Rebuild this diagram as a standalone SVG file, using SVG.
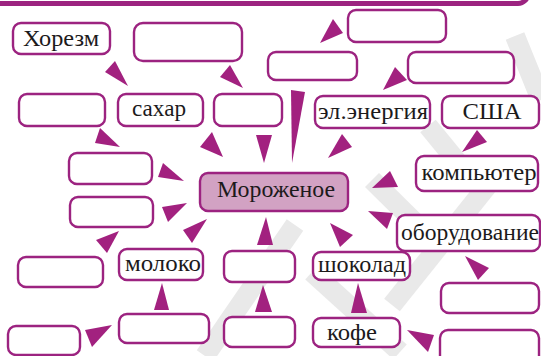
<svg xmlns="http://www.w3.org/2000/svg" width="541" height="356" viewBox="0 0 541 356">
<style>
.box{fill:#fff;stroke:#9c2380;stroke-width:2.4}
.main{fill:#d2a2c3;stroke:#9c2380;stroke-width:2.4}
.arr{fill:#a2217f;stroke:none}
.t{font-family:'Liberation Serif','Times New Roman',serif;font-size:24px;fill:#1c1a1b;text-anchor:middle}
.wm{fill:none;stroke:#e9e9e9;stroke-width:20;stroke-linecap:butt}
</style>
<rect width="541" height="356" fill="#fff"/>
<g id="watermark">
<path class="wm" d="M515,36 L541,100"/>
<path class="wm" d="M428,126 L482,192"/>
<path class="wm" d="M372,180 L445,252"/>
<path class="wm" d="M500,170 L392,305"/>
<path class="wm" d="M295,225 L205,356"/>
<path class="wm" d="M312,272 L400,352"/>
</g>
<rect x="-20" y="-40" width="548" height="43.5" rx="10" fill="none" stroke="#9c2380" stroke-width="5"/>
<g id="connectors">
<polygon class="arr" points="105,72 115,61 128,86"/>
<polygon class="arr" points="220,77 230,65 243,88"/>
<polygon class="arr" points="200,147 212,132 223,157"/>
<polygon class="arr" points="256,135 272,135 264,163"/>
<polygon class="arr" points="95,143 100,128 120,147"/>
<polygon class="arr" points="163,163 158,177 184,181"/>
<polygon class="arr" points="320,43 333,19 343,33"/>
<polygon class="arr" points="291,90 305,92 292,163"/>
<polygon class="arr" points="383,90 395,67 407,80"/>
<polygon class="arr" points="328,158 342,134 352,147"/>
<polygon class="arr" points="462,152 477,130 487,142"/>
<polygon class="arr" points="372,188 390,171 398,187"/>
<polygon class="arr" points="368,211 393,213 387,229"/>
<polygon class="arr" points="330,223 353,235 340,247"/>
<polygon class="arr" points="465,256 489,268 478,280"/>
<polygon class="arr" points="358,283 351,313 367,313"/>
<polygon class="arr" points="407,330 434,335 428,352"/>
<polygon class="arr" points="263,285 255,312 272,312"/>
<polygon class="arr" points="266,217 257,245 273,245"/>
<polygon class="arr" points="162,207 187,203 168,222"/>
<polygon class="arr" points="96,240 119,231 107,253"/>
<polygon class="arr" points="183,230 207,219 192,243"/>
<polygon class="arr" points="162,283 154,310 169,310"/>
<polygon class="arr" points="112,325 85,330 92,347"/>
</g>
<g id="n-khorezm"><rect class="box" x="13" y="23" width="97" height="31" rx="8"/><text class="t" x="61" y="46" textLength="76" lengthAdjust="spacingAndGlyphs">Хорезм</text></g>
<g id="n-top1"><rect class="box" x="134" y="23" width="108" height="38" rx="9"/></g>
<g id="n-top2"><rect class="box" x="268" y="52" width="89" height="28" rx="8"/></g>
<g id="n-top3"><rect class="box" x="348" y="10" width="98" height="32" rx="8"/></g>
<g id="n-top4"><rect class="box" x="408" y="52" width="106" height="31" rx="8"/></g>
<g id="n-left1"><rect class="box" x="19" y="94" width="86" height="32" rx="8"/></g>
<g id="n-sakhar"><rect class="box" x="118" y="94" width="85" height="32" rx="8"/><text class="t" x="159" y="116" textLength="54" lengthAdjust="spacingAndGlyphs">сахар</text></g>
<g id="n-r1"><rect class="box" x="214" y="94" width="68" height="32" rx="8"/></g>
<g id="n-energy"><rect class="box" x="315" y="96" width="115" height="32" rx="8"/><text class="t" x="373" y="118.5" textLength="110" lengthAdjust="spacingAndGlyphs">эл.энергия</text></g>
<g id="n-usa"><rect class="box" x="442" y="96" width="97" height="32" rx="8"/><text class="t" x="492" y="119" textLength="59" lengthAdjust="spacingAndGlyphs">США</text></g>
<g id="n-computer"><rect class="box" x="416" y="156" width="122" height="35" rx="8"/><text class="t" x="479" y="180" textLength="115" lengthAdjust="spacingAndGlyphs">компьютер</text></g>
<g id="n-main"><rect class="main" x="200" y="173" width="148" height="38" rx="8"/><text class="t" x="276" y="197" textLength="118" lengthAdjust="spacingAndGlyphs">Мороженое</text></g>
<g id="n-L1"><rect class="box" x="69" y="153" width="83" height="31" rx="8"/></g>
<g id="n-L2"><rect class="box" x="70" y="197" width="83" height="30" rx="8"/></g>
<g id="n-L3"><rect class="box" x="18" y="257" width="85" height="30" rx="8"/></g>
<g id="n-moloko"><rect class="box" x="119" y="249" width="84" height="31" rx="8"/><text class="t" x="163" y="271" textLength="76" lengthAdjust="spacingAndGlyphs">молоко</text></g>
<g id="n-L4"><rect class="box" x="119" y="314" width="90" height="29" rx="8"/></g>
<g id="n-L5"><rect class="box" x="8" y="326" width="72" height="29" rx="8"/></g>
<g id="n-c1"><rect class="box" x="224" y="251" width="71" height="31" rx="8"/></g>
<g id="n-c2"><rect class="box" x="224" y="317" width="71" height="30" rx="8"/></g>
<g id="n-shokolad"><rect class="box" x="313" y="252" width="97" height="28" rx="8"/><text class="t" x="362" y="272" textLength="88" lengthAdjust="spacingAndGlyphs">шоколад</text></g>
<g id="n-kofe"><rect class="box" x="313" y="318" width="87" height="29" rx="8"/><text class="t" x="352" y="339.5" textLength="50" lengthAdjust="spacingAndGlyphs">кофе</text></g>
<g id="n-equipment"><rect class="box" x="397" y="215" width="143" height="36" rx="8"/><text class="t" x="470" y="240" textLength="138" lengthAdjust="spacingAndGlyphs">оборудование</text></g>
<g id="n-r2"><rect class="box" x="441" y="283" width="98" height="30" rx="8"/></g>
<g id="n-r3"><rect class="box" x="440" y="330" width="99" height="40" rx="8"/></g>
</svg>
